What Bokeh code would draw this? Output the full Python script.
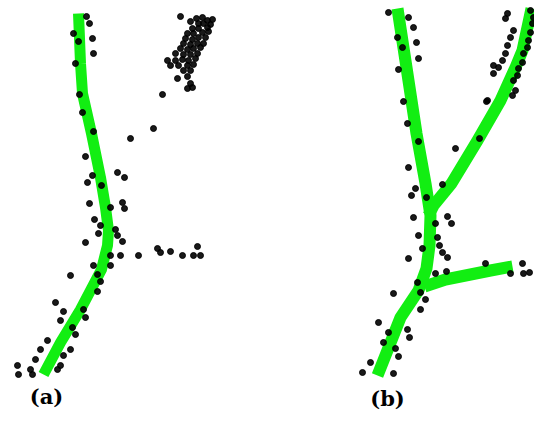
from bokeh.plotting import figure
from bokeh.models import Range1d
from bokeh.core.properties import value
from bokeh.embed import file_html
from bokeh.resources import INLINE

# ---- skeleton lines (image pixel coordinates, y downwards) ----
a_skel_x = [78, 80, 82, 91, 100, 105, 108, 107, 101, 80, 60, 43]
a_skel_y = [13, 63, 93, 133, 177, 207, 230, 245, 269, 309, 342, 374]

b_trunk_x = [397, 406, 416, 425, 430, 429, 426, 418, 400, 377]
b_trunk_y = [8, 67, 133, 183, 215, 245, 268, 290, 317, 375]
b_right_x = [531, 522, 515, 500, 477, 451, 433, 428]
b_right_y = [8, 50, 67, 100, 140, 183, 205, 215]
b_low_x = [424, 445, 470, 490, 512]
b_low_y = [286, 279, 274, 270, 266]

# ---- point cloud (a) ----
a_pts_x = [86, 89, 73, 78, 92, 93, 75, 79, 82, 93, 85, 92, 87, 101, 117, 124,
           89, 110, 122, 124, 162, 153, 130,
           180, 190, 196, 202, 207, 212, 198, 203, 210, 192, 198, 207, 187, 193,
           202, 208, 185, 192, 198, 205, 183, 190, 197, 203, 180, 187, 193, 200,
           175, 183, 190, 197, 167, 175, 182, 188, 195, 170, 178, 187, 193, 183,
           190, 177, 187, 190, 187, 192,
           94, 100, 115, 98, 117, 85, 122, 110, 120, 138, 157, 160, 170, 182, 197,
           200, 193, 110, 93, 70, 97, 100, 97, 55, 83, 63, 85, 60, 72, 75, 47, 70,
           40, 63, 35, 60, 17, 30, 18, 32, 57]
a_pts_y = [16, 23, 33, 41, 38, 53, 63, 94, 112, 131, 156, 175, 182, 185, 172, 177,
           203, 207, 202, 208, 94, 128, 138,
           16, 21, 18, 17, 20, 19, 23, 23, 24, 28, 28, 27, 33, 33,
           32, 31, 38, 39, 37, 37, 43, 44, 43, 43, 48, 49, 48, 47,
           53, 54, 54, 53, 60, 60, 59, 60, 58, 65, 65, 65, 64, 70,
           70, 78, 76, 83, 88, 87,
           219, 225, 229, 233, 235, 242, 241, 255, 255, 255, 248, 252, 251, 255, 246,
           255, 255, 265, 265, 275, 274, 281, 291, 302, 309, 311, 317, 320, 327, 334,
           340, 349, 349, 355, 359, 365, 365, 369, 374, 374, 369]

# ---- point cloud (b) ----
b_pts_x = [388, 408, 413, 397, 402, 416, 418, 398, 403, 407, 418, 408, 415, 411,
           426, 442, 455, 479, 486,
           507, 505, 530, 533, 532, 513, 530, 510, 528, 507, 527, 505, 523, 502,
           522, 493, 498, 518, 493, 517, 513, 515, 512, 487,
           413, 447, 451, 435, 418, 437, 422, 439, 442, 447, 408, 435, 446, 485,
           522, 510, 523, 529, 417, 420, 425, 393, 420, 378, 388, 407, 409, 383,
           395, 398, 370, 362, 393]
b_pts_y = [12, 17, 27, 37, 47, 42, 58, 69, 101, 123, 141, 167, 188, 195,
           197, 184, 148, 138, 101,
           13, 18, 10, 17, 23, 30, 32, 37, 40, 45, 47, 53, 53, 60,
           62, 65, 67, 68, 73, 75, 80, 90, 95, 100,
           217, 216, 223, 223, 235, 237, 248, 245, 252, 257, 258, 273, 271, 263,
           263, 273, 273, 272, 282, 292, 299, 293, 309, 322, 332, 329, 337, 342,
           348, 356, 362, 372, 373]

labels = ["(a)", "(b)"]
label_x = [46, 387]
label_y = [396, 398]

W, H = 534, 416
p = figure(width=W, height=H, output_backend="svg", toolbar_location=None,
           x_range=Range1d(0, W), y_range=Range1d(H, 0),
           min_border=0, outline_line_color=None)
p.axis.visible = False
p.grid.visible = False
p.background_fill_color = "white"
p.border_fill_color = "white"

green = "#12ee12"
p.line(a_skel_x, a_skel_y, line_width=11, line_color=green, line_join="round")
p.line(b_trunk_x, b_trunk_y, line_width=12, line_color=green, line_join="round")
p.line(b_right_x, b_right_y, line_width=12, line_color=green, line_join="round")
p.line(b_low_x, b_low_y, line_width=12, line_color=green, line_join="round")

p.scatter(a_pts_x, a_pts_y, size=6, color="black", alpha=0.9)
p.scatter(b_pts_x, b_pts_y, size=6, color="black", alpha=0.9)

p.text(label_x, label_y, text=labels, text_font=value("DejaVu Serif"),
       text_font_style="bold", text_font_size="21px", text_color="black",
       text_align="center", text_baseline="middle")

open("out.html", "w").write(file_html(p, INLINE))
